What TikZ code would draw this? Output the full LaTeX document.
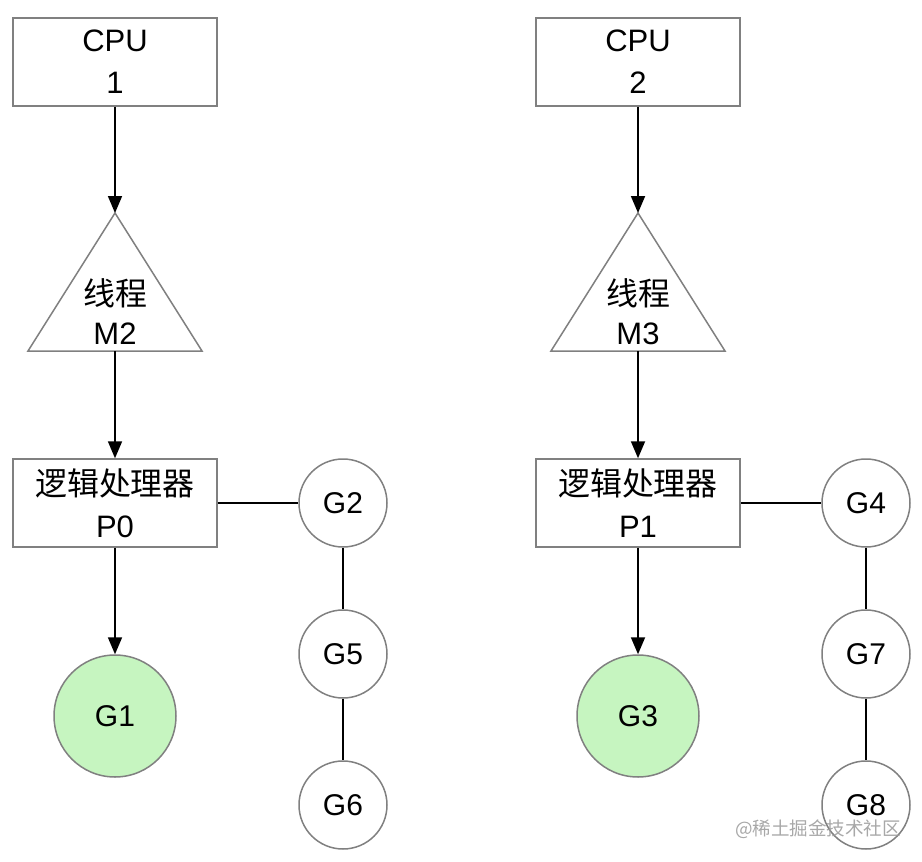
\documentclass[tikz,border=0pt]{standalone}
\usepackage{fontspec}
\setmainfont{Liberation Sans}
\newfontfamily\cjk[Scale=1.03]{Noto Sans CJK SC}
\usetikzlibrary{arrows.meta}
\definecolor{boxgray}{RGB}{128,128,128}
\definecolor{gfill}{RGB}{198,245,192}
\begin{document}
\begin{tikzpicture}[x=1pt,y=-1pt,
 box/.style={draw=boxgray, line width=1.5pt, minimum width=204pt, minimum height=88pt, inner sep=0pt, align=center, font=\fontsize{31}{42}\selectfont},
 gc/.style={circle, draw=boxgray, line width=1.5pt, fill=white, minimum size=88pt, inner sep=0pt, font=\fontsize{30}{35}\selectfont},
 big/.style={gc, minimum size=122pt, fill=gfill},
 tri/.style={draw=boxgray, line width=1.5pt, line join=miter},
 tlabel/.style={align=center, inner sep=0pt, font=\fontsize{31}{39}\selectfont},
 arr/.style={-{Triangle[length=17pt,width=14pt]}, line width=1.8pt},
 ln/.style={line width=1.8pt}]
\useasboundingbox (0,0) rectangle (922,862);
\fill[white] (0,0) rectangle (922,862);

% left column
\node[box] (cpu1) at (115,62) {CPU\\1};
\coordinate (m2top) at (115,213);
\coordinate (m2bot) at (115,351);
\draw[tri] (m2top) -- (202,351) -- (28,351) -- cycle;
\node[tlabel] (m2) at (115,312) {{\cjk 线程}\\M2};
\node[box] (p0) at (115,503) {{\cjk 逻辑处理器}\\P0};
\node[big] (g1) at (115,716) {G1};
\node[gc] (g2) at (343,503) {G2};
\node[gc] (g5) at (343,654) {G5};
\node[gc] (g6) at (343,805) {G6};

% right column
\node[box] (cpu2) at (638,62) {CPU\\2};
\coordinate (m3top) at (638,213);
\coordinate (m3bot) at (638,351);
\draw[tri] (m3top) -- (725,351) -- (551,351) -- cycle;
\node[tlabel] (m3) at (638,312) {{\cjk 线程}\\M3};
\node[box] (p1) at (638,503) {{\cjk 逻辑处理器}\\P1};
\node[big] (g3) at (638,716) {G3};
\node[gc] (g4) at (866,503) {G4};
\node[gc] (g7) at (866,654) {G7};
\node[gc] (g8) at (866,805) {G8};

% connectors
\draw[arr] (cpu1.south) -- (m2top);
\draw[arr] (m2bot) -- (p0.north);
\draw[arr] (p0.south) -- (g1.north);
\draw[ln] (p0.east) -- (g2.west);
\draw[ln] (g2.south) -- (g5.north);
\draw[ln] (g5.south) -- (g6.north);

\draw[arr] (cpu2.south) -- (m3top);
\draw[arr] (m3bot) -- (p1.north);
\draw[arr] (p1.south) -- (g3.north);
\draw[ln] (p1.east) -- (g4.west);
\draw[ln] (g4.south) -- (g7.north);
\draw[ln] (g7.south) -- (g8.north);

% watermark
\node[text=black!40, opacity=0.85, inner sep=0pt, font=\cjk\fontsize{18}{20}\selectfont] (wm) at (818,829) {@稀土掘金技术社区};
\end{tikzpicture}
\end{document}
